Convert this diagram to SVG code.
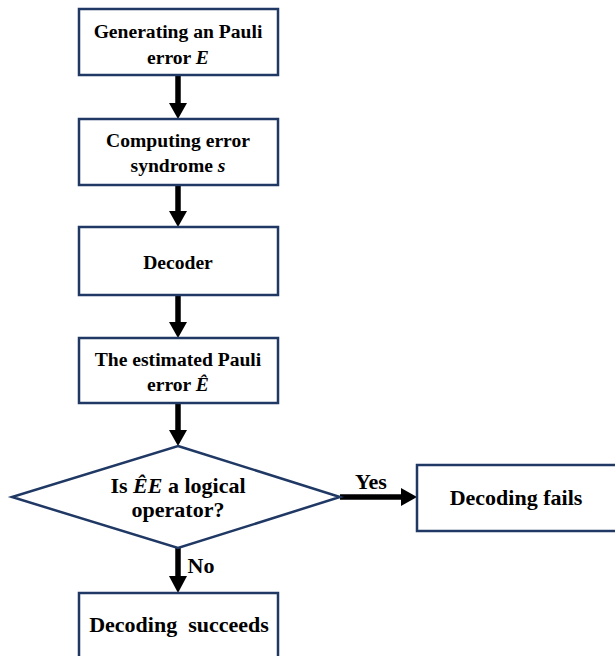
<svg xmlns="http://www.w3.org/2000/svg" width="615" height="656" viewBox="0 0 615 656">
<style>
.box{fill:#fff;stroke:#1f3864;stroke-width:2.5}
.t{font-family:"Liberation Serif","Times New Roman",serif;font-weight:bold;font-size:19.6px;fill:#000;text-anchor:middle}
.l{font-size:22px}
.m{font-style:italic}
.sh{stroke:#000;stroke-width:5.5;fill:none}
.hd{fill:#000}
</style>
<rect width="615" height="656" fill="#fff"/>
<g id="connectors">
<line class="sh" x1="178" y1="75" x2="178" y2="104"/><polygon class="hd" points="169,103 187,103 178,119"/>
<line class="sh" x1="178" y1="185" x2="178" y2="212"/><polygon class="hd" points="169,211 187,211 178,227"/>
<line class="sh" x1="178" y1="295" x2="178" y2="323"/><polygon class="hd" points="169,322 187,322 178,338"/>
<line class="sh" x1="178" y1="403" x2="178" y2="431"/><polygon class="hd" points="169,430 187,430 178,446"/>
<line class="sh" x1="178" y1="548" x2="178" y2="577"/><polygon class="hd" points="169,576 187,576 178,593"/>
<line class="sh" x1="340" y1="497" x2="402" y2="497"/><polygon class="hd" points="401,488 401,506 417,497"/>
<text class="t l" x="371" y="489">Yes</text>
<text class="t l" x="201" y="573">No</text>
</g>
<g id="n1"><rect class="box" x="79" y="9" width="199" height="66"/>
<text class="t" x="178" y="38">Generating an Pauli</text>
<text class="t" x="178" y="64">error <tspan class="m">E</tspan></text></g>
<g id="n2"><rect class="box" x="79" y="119" width="199" height="66"/>
<text class="t" x="178" y="147">Computing error</text>
<text class="t" x="178" y="172">syndrome <tspan class="m">s</tspan></text></g>
<g id="n3"><rect class="box" x="79" y="227" width="199" height="68"/>
<text class="t" x="178" y="269">Decoder</text></g>
<g id="n4"><rect class="box" x="79" y="338" width="199" height="65"/>
<text class="t" x="178" y="366">The estimated Pauli</text>
<text class="t" x="178" y="391">error <tspan class="m">Ê</tspan></text></g>
<g id="n5"><polygon class="box" points="178,446 340,497 178,548 12,497"/>
<text class="t l" x="178" y="493">Is <tspan class="m">ÊE</tspan> a logical</text>
<text class="t l" x="178" y="517">operator?</text></g>
<g id="n6"><rect class="box" x="417" y="465" width="200" height="66"/>
<text class="t l" x="516" y="505">Decoding fails</text></g>
<g id="n7"><rect class="box" x="79" y="593" width="199" height="75"/>
<text class="t l" x="179" y="632" xml:space="preserve">Decoding  succeeds</text></g>
</svg>
